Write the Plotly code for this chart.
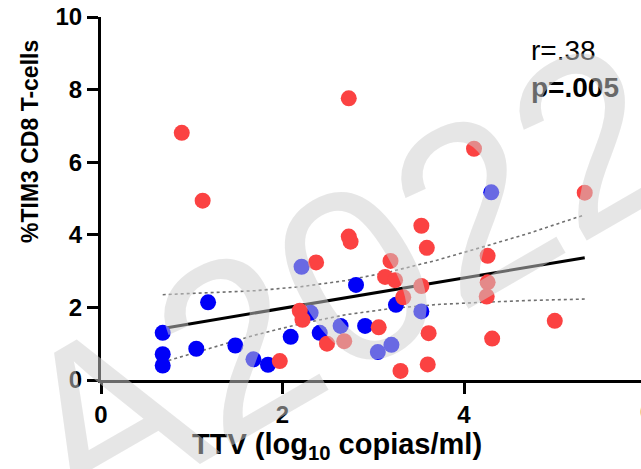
import plotly.graph_objects as go

# ---- data ----
red_x = [0.89, 1.12, 2.73, 4.11, 5.33, 1.97, 2.19, 2.22, 2.37, 2.49, 2.68, 2.73, 2.75,
         3.06, 3.13, 3.19, 3.24, 3.30, 3.33, 3.53, 3.53, 3.59, 3.60, 3.61, 4.26, 4.26,
         4.25, 4.31, 5.00]
red_y = [6.81, 4.94, 7.76, 6.37, 5.16, 0.52, 1.91, 1.66, 3.24, 1.00, 1.07, 3.95, 3.81,
         1.45, 2.84, 3.28, 2.75, 0.25, 2.28, 4.25, 2.59, 3.64, 0.43, 1.29, 3.42, 2.69,
         2.30, 1.14, 1.63]

blue_x = [0.68, 0.68, 0.68, 1.05, 1.18, 1.48, 1.68, 1.84, 2.09, 2.21, 2.31, 2.41, 2.64,
          2.81, 2.91, 3.05, 3.20, 3.25, 3.53, 4.30]
blue_y = [1.30, 0.71, 0.40, 0.86, 2.14, 0.95, 0.57, 0.42, 1.19, 3.12, 1.85, 1.30, 1.49,
          2.62, 1.49, 0.77, 0.97, 2.07, 1.89, 5.17]

fit_x = [0.68, 5.33]
fit_y = [1.42, 3.37]

band_x = [0.68, 1.2, 1.7, 2.2, 2.7, 3.2, 3.7, 4.2, 4.7, 5.33]
band_upper = [2.35, 2.40, 2.46, 2.57, 2.74, 2.99, 3.30, 3.66, 4.03, 4.55]
band_lower = [0.49, 0.88, 1.24, 1.55, 1.80, 1.97, 2.08, 2.14, 2.19, 2.23]

x_ticks = [0, 2, 4, 6]
y_ticks = [0, 2, 4, 6, 8, 10]

stat_r = "r=.38"
stat_p = "p=.005"
x_title = "TTV (log<sub>10</sub> copias/ml)"
y_title = "%TIM3 CD8 T-cells"
watermark = "A2022"

# ---- layout geometry ----
W, H = 641, 469
L, R, T, B = 101, 0, 17, 89
PW, PH = W - L - R, H - T - B
XMAX = 5.95

def px(xp):
    return (xp - L) / PW

def py(yp):
    return (H - B - yp) / PH

FONT = "Liberation Sans, Arial, sans-serif"

fig = go.Figure()

fig.add_trace(go.Scatter(x=band_x, y=band_upper, mode="lines",
                         line=dict(color="#707070", width=1.6, dash="dot"),
                         hoverinfo="skip", showlegend=False))
fig.add_trace(go.Scatter(x=band_x, y=band_lower, mode="lines",
                         line=dict(color="#707070", width=1.6, dash="dot"),
                         hoverinfo="skip", showlegend=False))
fig.add_trace(go.Scatter(x=fit_x, y=fit_y, mode="lines",
                         line=dict(color="black", width=3),
                         showlegend=False))
fig.add_trace(go.Scatter(x=blue_x, y=blue_y, mode="markers",
                         marker=dict(color="#0000f8", size=16, line=dict(width=0)),
                         showlegend=False, cliponaxis=False))
fig.add_trace(go.Scatter(x=red_x, y=red_y, mode="markers",
                         marker=dict(color="#fb4242", size=16, line=dict(width=0)),
                         showlegend=False, cliponaxis=False))

axis_common = dict(showline=True, linecolor="black", linewidth=3,
                   ticks="outside", ticklen=11, tickwidth=3, tickcolor="black",
                   showgrid=False, zeroline=False, automargin=False,
                   tickfont=dict(family=FONT, size=24, color="black", weight="bold"))

fig.update_xaxes(range=[0, XMAX], tickvals=x_ticks, **axis_common)
fig.update_yaxes(range=[0, 10], tickvals=y_ticks, **axis_common)

annotations = [
    dict(text=stat_r, xref="paper", yref="paper", x=px(529), y=py(50),
         xanchor="left", yanchor="middle", showarrow=False,
         font=dict(family=FONT, size=28, color="black")),
    dict(text="<b>" + stat_p + "</b>", xref="paper", yref="paper", x=px(529), y=py(88),
         xanchor="left", yanchor="middle", showarrow=False,
         font=dict(family=FONT, size=28, color="black")),
    dict(text="<b>6</b>", xref="paper", yref="paper", x=px(646), y=py(411),
         xanchor="center", yanchor="middle", showarrow=False,
         font=dict(family=FONT, size=24, color="black")),
    dict(text="<b>" + x_title + "</b>", xref="paper", yref="paper", x=px(337), y=py(446),
         xanchor="center", yanchor="middle", showarrow=False,
         font=dict(family=FONT, size=29, color="black")),
    dict(text="<b>" + y_title + "</b>", xref="paper", yref="paper", x=px(30), y=py(142),
         xanchor="center", yanchor="middle", showarrow=False, textangle=-90,
         font=dict(family=FONT, size=23, color="black")),
    dict(text=watermark, xref="paper", yref="paper", x=px(343), y=py(282),
         xanchor="center", yanchor="middle", showarrow=False, textangle=-30,
         font=dict(family=FONT, size=246, color="rgba(206,206,206,0.51)")),
]

fig.update_layout(width=W, height=H,
                  margin=dict(l=L, r=R, t=T, b=B, pad=0, autoexpand=False),
                  paper_bgcolor="white", plot_bgcolor="white",
                  annotations=annotations, showlegend=False)

fig.write_html("out.html", config={"displayModeBar": False},
               post_script="document.body.style.margin='0';document.body.style.padding='0';")
